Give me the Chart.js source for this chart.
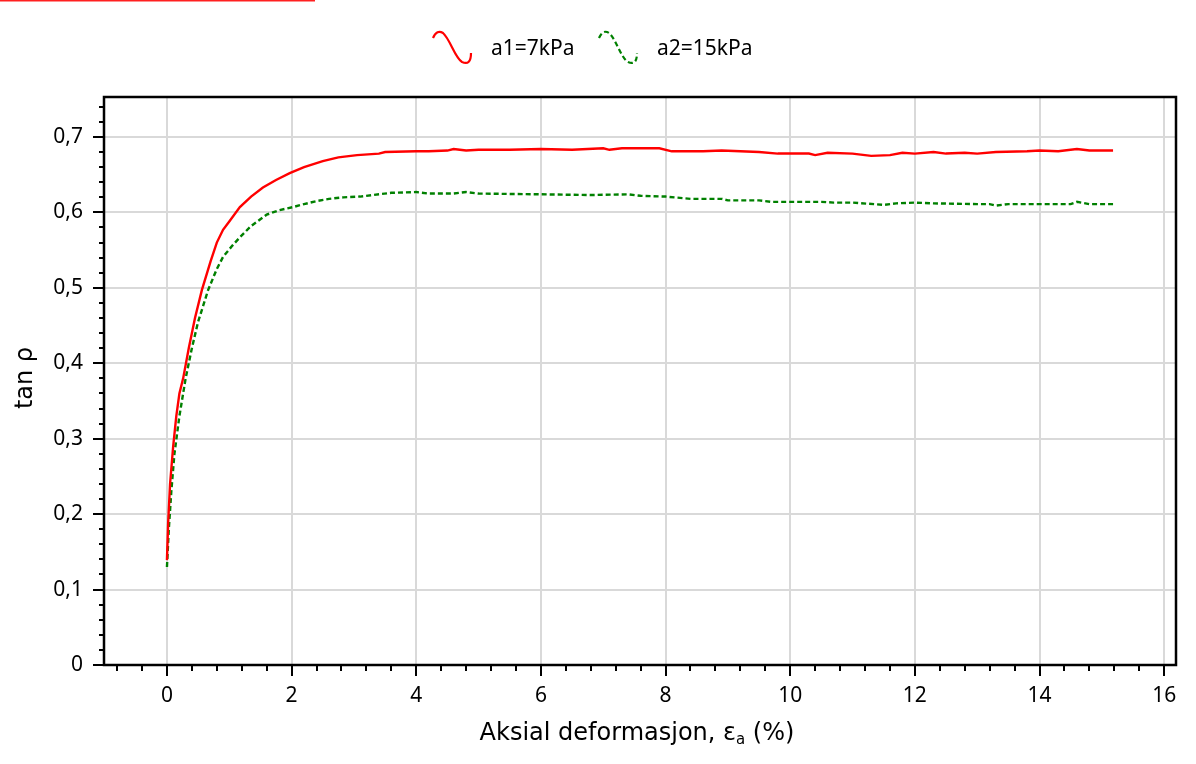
<!DOCTYPE html>
<html>
<head>
<meta charset="utf-8">
<style>
  html, body { margin: 0; padding: 0; background: #fff; }
  #wrap { position: relative; width: 1196px; height: 764px; }
</style>
<script src="https://cdn.jsdelivr.net/npm/chart.js"></script>
</head>
<body>
<div id="wrap"><canvas id="chart" width="1196" height="764"></canvas></div>
<script>
    // ▼ a1 = 7 kPa (red, solid)
    const strainA1 = [0, 0.02, 0.05, 0.1, 0.15, 0.2, 0.26, 0.35, 0.45, 0.56, 0.7, 0.8, 0.9, 1.0, 1.17, 1.35, 1.54, 1.75, 1.97, 2.2, 2.5, 2.75, 3.05, 3.4, 3.5, 4.0, 4.2, 4.5, 4.6, 4.8, 5.0, 5.5, 6.0, 6.5, 7.0, 7.1, 7.3, 7.6, 7.9, 8.1, 8.6, 8.9, 9.2, 9.5, 9.8, 10.3, 10.4, 10.6, 11.0, 11.3, 11.6, 11.8, 12.0, 12.3, 12.5, 12.8, 13.0, 13.3, 13.8, 14.0, 14.3, 14.6, 14.8, 15.18];
    const tanA1    = [0.139, 0.19, 0.24, 0.29, 0.33, 0.36, 0.38, 0.42, 0.46, 0.497, 0.535, 0.56, 0.577, 0.588, 0.607, 0.621, 0.633, 0.643, 0.652, 0.66, 0.668, 0.673, 0.676, 0.678, 0.68, 0.681, 0.681, 0.682, 0.684, 0.682, 0.683, 0.683, 0.684, 0.683, 0.685, 0.683, 0.685, 0.685, 0.685, 0.681, 0.681, 0.682, 0.681, 0.68, 0.678, 0.678, 0.676, 0.679, 0.678, 0.675, 0.676, 0.679, 0.678, 0.68, 0.678, 0.679, 0.678, 0.68, 0.681, 0.682, 0.681, 0.684, 0.682, 0.682];

    // ▼ a2 = 15 kPa (green, dashed)
    const strainA2 = [0, 0.03, 0.07, 0.12, 0.2, 0.3, 0.4, 0.5, 0.66, 0.8, 0.9, 1.05, 1.17, 1.35, 1.6, 1.8, 2.02, 2.2, 2.4, 2.6, 2.83, 3.1, 3.3, 3.6, 4.0, 4.2, 4.6, 4.8, 5.0, 6.0, 6.8, 7.4, 7.6, 8.0, 8.4, 8.9, 9.0, 9.5, 9.7, 10.5, 10.7, 11.0, 11.5, 11.7, 12.0, 12.3, 13.0, 13.2, 13.3, 13.5, 14.5, 14.6, 14.8, 15.18];
    const tanA2    = [0.13, 0.18, 0.23, 0.28, 0.33, 0.38, 0.42, 0.455, 0.497, 0.525, 0.541, 0.556, 0.567, 0.582, 0.597, 0.603, 0.607, 0.611, 0.615, 0.618, 0.62, 0.621, 0.623, 0.626, 0.627, 0.625, 0.625, 0.627, 0.625, 0.624, 0.623, 0.624, 0.622, 0.621, 0.618, 0.618, 0.616, 0.616, 0.614, 0.614, 0.613, 0.613, 0.61, 0.612, 0.613, 0.612, 0.611, 0.611, 0.609, 0.611, 0.611, 0.614, 0.611, 0.611];

    const xTicks = [0, 2, 4, 6, 8, 10, 12, 14, 16];
    const yTicks = [0, 0.1, 0.2, 0.3, 0.4, 0.5, 0.6, 0.7];
    const legendLabels = ['a1=7kPa', 'a2=15kPa'];

    const FONT = 'DejaVu Sans';
    const SMALL = 'Noto Sans';
    Chart.defaults.font.family = SMALL;
    Chart.defaults.color = '#000';

    const toPoints = (xs, ys) => xs.map((x, i) => ({ x, y: ys[i] }));
    const comma = v => v === 0 ? '0' : v.toFixed(1).replace('.', ',');

    // ▼ frame, tick marks, legend and axis titles
    const decor = {
        id: 'decor',
        afterDraw(chart) {
            const { ctx, chartArea: a, scales: { x, y } } = chart;
            ctx.save();

            // red stripe at the very top-left
            ctx.fillStyle = '#ff2020';
            ctx.fillRect(0, 0, 315, 1.5);

            ctx.strokeStyle = '#000';
            ctx.lineWidth = 2;
            for (let i = 0; i <= 40; i++) {
                const v = i * 0.02;
                if (v > y.max) break;
                const p = Math.round(y.getPixelForValue(v));
                const len = i % 5 === 0 ? 11 : 5;
                ctx.beginPath(); ctx.moveTo(a.left - len, p); ctx.lineTo(a.left, p); ctx.stroke();
            }
            for (let i = -2; i <= 40; i++) {
                const v = i * 0.4;
                if (v < x.min || v > x.max) continue;
                const p = Math.round(x.getPixelForValue(v));
                const len = i % 5 === 0 ? 11 : 6;
                ctx.beginPath(); ctx.moveTo(p, a.bottom); ctx.lineTo(p, a.bottom + len); ctx.stroke();
            }
            ctx.lineWidth = 2.5;
            ctx.strokeRect(a.left, a.top, a.right - a.left, a.bottom - a.top);

            // legend
            const drawWave = (ox, color, dash) => {
                ctx.strokeStyle = color;
                ctx.lineWidth = 2.2;
                ctx.setLineDash(dash);
                ctx.beginPath();
                ctx.moveTo(ox, 38);
                ctx.quadraticCurveTo(ox + 4, 29, ox + 10, 33);
                ctx.bezierCurveTo(ox + 17, 39, ox + 22, 58, ox + 29, 62);
                ctx.quadraticCurveTo(ox + 38, 66, ox + 38, 53);
                ctx.stroke();
                ctx.setLineDash([]);
            };
            drawWave(433, '#ff0000', []);
            drawWave(599, '#008000', [5, 3]);
            ctx.fillStyle = '#000';
            ctx.font = '21px "' + SMALL + '"';
            ctx.textBaseline = 'alphabetic';
            ctx.textAlign = 'left';
            ctx.fillText(legendLabels[0], 491, 55);
            ctx.fillText(legendLabels[1], 657, 55);

            // y title
            ctx.font = '24px "' + FONT + '"';
            ctx.save();
            ctx.translate(32, 378);
            ctx.rotate(-Math.PI / 2);
            ctx.textAlign = 'center';
            ctx.fillText('tan ρ', 0, 0);
            ctx.restore();

            // x title with subscript
            const part1 = 'Aksial deformasjon, ε', sub = 'a', part2 = ' (%)';
            ctx.font = '24px "' + FONT + '"';
            const w1 = ctx.measureText(part1).width, w3 = ctx.measureText(part2).width;
            ctx.font = '15px "' + FONT + '"';
            const w2 = ctx.measureText(sub).width;
            let tx = 637 - (w1 + w2 + w3) / 2;
            const base = 740;
            ctx.font = '24px "' + FONT + '"';
            ctx.fillText(part1, tx, base); tx += w1;
            ctx.font = '15px "' + FONT + '"';
            ctx.fillText(sub, tx, base + 4); tx += w2;
            ctx.font = '24px "' + FONT + '"';
            ctx.fillText(part2, tx, base);

            ctx.restore();
        }
    };

    const ctx = document.getElementById('chart').getContext('2d');
    const chart = new Chart(ctx, {
        type: 'scatter',
        data: {
            datasets: [
                { label: legendLabels[0], data: toPoints(strainA1, tanA1), showLine: true,
                  borderColor: '#ff0000', borderWidth: 2.4, pointRadius: 0, tension: 0 },
                { label: legendLabels[1], data: toPoints(strainA2, tanA2), showLine: true,
                  borderColor: '#008000', borderWidth: 2.4, borderDash: [5, 3], pointRadius: 0, tension: 0 }
            ]
        },
        options: {
            responsive: false,
            animation: false,
            layout: { padding: { top: 97, right: 20, left: 0, bottom: 0 } },
            plugins: { legend: { display: false }, tooltip: { enabled: false } },
            scales: {
                x: {
                    type: 'linear', min: -1.01, max: 16.19,
                    afterBuildTicks: s => { s.ticks = xTicks.map(v => ({ value: v })); },
                    afterFit: s => { s.height = 99; },
                    grid: { color: '#d9d9d9', lineWidth: 2, drawTicks: false },
                    border: { display: false },
                    ticks: { font: { size: 21 }, padding: 18, maxRotation: 0, callback: v => String(v) }
                },
                y: {
                    type: 'linear', min: 0, max: 0.753,
                    afterBuildTicks: s => { s.ticks = yTicks.map(v => ({ value: v })); },
                    afterFit: s => { s.width = 104; },
                    grid: { color: '#d9d9d9', lineWidth: 2, drawTicks: false },
                    border: { display: false },
                    ticks: { font: { size: 21 }, padding: 21, callback: v => comma(v) }
                }
            }
        },
        plugins: [decor]
    });
</script>
</body>
</html>
